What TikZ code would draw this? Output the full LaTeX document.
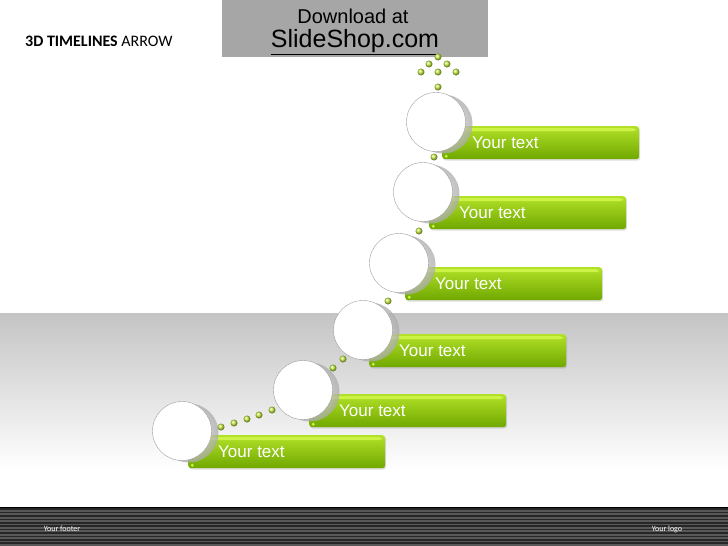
\documentclass[tikz,border=0pt]{standalone}
\usepackage{fontspec}
\setmainfont{Liberation Sans}
\newfontfamily\calibri{Carlito}
\usepackage{tikz}
\usetikzlibrary{positioning}
\usetikzlibrary{shadows}
\definecolor{barTop}{RGB}{178,225,40}
\definecolor{barMid}{RGB}{145,200,12}
\definecolor{barBottom}{RGB}{112,168,0}
\definecolor{barGlint}{RGB}{205,242,70}
\definecolor{rimLight}{RGB}{228,228,228}
\definecolor{rimDark}{RGB}{170,170,170}
\definecolor{beadGreen}{RGB}{200,240,70}
\definecolor{boxGray}{RGB}{166,166,166}
\definecolor{bandGray}{RGB}{196,196,196}
\definecolor{footDark}{RGB}{38,38,38}
\definecolor{footLight}{RGB}{88,88,88}
\tikzset{
    tnode/.style = {align=center, inner sep=0pt, text centered},
    bar/.style = {tnode, rectangle, rounded corners=3pt, minimum width=197pt, minimum height=33pt,
        top color=barTop, middle color=barMid, bottom color=barBottom,
        drop shadow={opacity=0.25, shadow xshift=1pt, shadow yshift=-1.5pt},
        path picture={
            \fill[barGlint] ([xshift=3pt,yshift=-2pt]path picture bounding box.north west)
                rectangle ([xshift=-3pt,yshift=-5pt]path picture bounding box.north east);
            \fill[barGlint] ([xshift=4pt,yshift=3pt]path picture bounding box.south west) circle (1.6pt);
        }},
    caption/.style = {tnode, white, font=\fontsize{17}{17}\selectfont},
    rim/.style = {tnode, circle, minimum size=59pt, inner color=rimLight, outer color=rimDark, opacity=0.75},
    disc/.style = {tnode, circle, minimum size=59pt, fill=white, draw=gray!75, thin},
    bead/.style = {tnode, circle, minimum size=7pt, shading=ball, ball color=beadGreen},
    foot/.style = {tnode, white, font=\calibri\fontsize{8}{8}\selectfont}
}
\begin{document}
\begin{tikzpicture}[x=1pt, y=-1pt]
    \useasboundingbox (0,0) rectangle (728,546);

    % background band and footer
    \fill[top color=bandGray, bottom color=white] (0,313) rectangle (728,470);
    \fill[footDark] (0,507) rectangle (728,546);
    \foreach \k in {0,...,10}
        \fill[footLight] (0,{510+3.4*\k}) rectangle (728,{511.7+3.4*\k});
    \draw[black, line width=1.5pt] (0,507.5) -- (728,507.5);
    \node[foot] (footer) at (62,529) {Your footer};
    \node[foot] (logo) at (667,529) {Your logo};

    % heading and download box
    \node[tnode, anchor=west, font=\calibri\fontsize{16}{16}\selectfont] (title) at (25,41)
        {\textbf{3D TIMELINES} ARROW};
    \node[tnode, fill=boxGray, minimum width=266pt, minimum height=57pt] (dlbox) at (355,28.5) {};
    \node[tnode, font=\fontsize{20}{20}\selectfont] (dltop) at (353,16) {Download at};
    \node[tnode, font=\fontsize{25}{25}\selectfont] (dlsite) at (355,42) {\underline{SlideShop.com}};

    % steps, bottom to top
    \coordinate (c1) at (182,431);
    \node[bar, anchor=north west] (bar1) at ([shift={(6,4)}]c1) {};
    \node[caption, right=30pt of bar1.west] (txt1) {Your text};
    \node[rim] (rim1) at ([shift={(7,2)}]c1) {};
    \node[disc] (disc1) at (c1) {};

    \coordinate (c2) at (303,390);
    \node[bar, anchor=north west] (bar2) at ([shift={(6,4)}]c2) {};
    \node[caption, right=30pt of bar2.west] (txt2) {Your text};
    \node[rim] (rim2) at ([shift={(7,2)}]c2) {};
    \node[disc] (disc2) at (c2) {};

    \coordinate (c3) at (363,330);
    \node[bar, anchor=north west] (bar3) at ([shift={(6,4)}]c3) {};
    \node[caption, right=30pt of bar3.west] (txt3) {Your text};
    \node[rim] (rim3) at ([shift={(7,2)}]c3) {};
    \node[disc] (disc3) at (c3) {};

    \coordinate (c4) at (399,263);
    \node[bar, anchor=north west] (bar4) at ([shift={(6,4)}]c4) {};
    \node[caption, right=30pt of bar4.west] (txt4) {Your text};
    \node[rim] (rim4) at ([shift={(7,2)}]c4) {};
    \node[disc] (disc4) at (c4) {};

    \coordinate (c5) at (423,192);
    \node[bar, anchor=north west] (bar5) at ([shift={(6,4)}]c5) {};
    \node[caption, right=30pt of bar5.west] (txt5) {Your text};
    \node[rim] (rim5) at ([shift={(7,2)}]c5) {};
    \node[disc] (disc5) at (c5) {};

    \coordinate (c6) at (436,122);
    \node[bar, anchor=north west] (bar6) at ([shift={(6,4)}]c6) {};
    \node[caption, right=30pt of bar6.west] (txt6) {Your text};
    \node[rim] (rim6) at ([shift={(7,2)}]c6) {};
    \node[disc] (disc6) at (c6) {};

    % beads between the steps
    \node[bead] (b1a) at (221,427) {};
    \node[bead] (b1b) at (234,423) {};
    \node[bead] (b1c) at (247,419) {};
    \node[bead] (b1d) at (259,415) {};
    \node[bead] (b1e) at (272,410) {};
    \node[bead] (b2a) at (333,368) {};
    \node[bead] (b2b) at (343,359) {};
    \node[bead] (b3a) at (388,301) {};
    \node[bead] (b4a) at (419,231) {};
    \node[bead] (b5a) at (434,157) {};

    % bead arrow on top
    \node[bead] (tip) at (438,57) {};
    \node[bead] (tipl) at (429,64) {};
    \node[bead] (tipr) at (447,64) {};
    \node[bead] (wingl) at (421,72) {};
    \node[bead] (shaft) at (438,72) {};
    \node[bead] (wingr) at (456,72) {};
    \node[bead] (tail) at (438,87) {};
\end{tikzpicture}
\end{document}
